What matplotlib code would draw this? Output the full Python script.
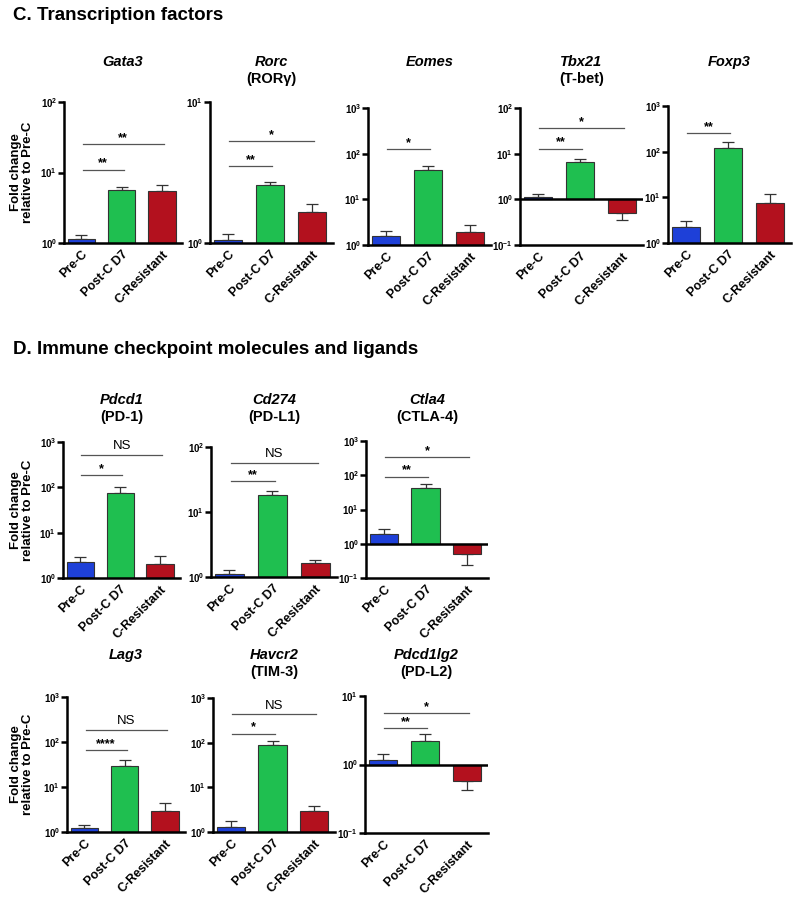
import numpy as np
import matplotlib
matplotlib.use("Agg")
import matplotlib.pyplot as plt
from matplotlib.ticker import FixedLocator, FuncFormatter, NullLocator

plt.rcParams['font.family'] = ['Liberation Sans', 'DejaVu Sans']
plt.rcParams['mathtext.fontset'] = 'custom'
plt.rcParams['mathtext.rm'] = 'Liberation Sans'
plt.rcParams['mathtext.bf'] = 'Liberation Sans:bold'
plt.rcParams['axes.unicode_minus'] = False

W, H = 800, 898

groups = ["Pre-C", "Post-C D7", "C-Resistant"]
genes = ["Gata3", "Rorc", "Eomes", "Tbx21", "Foxp3",
         "Pdcd1", "Cd274", "Ctla4", "Lag3", "Havcr2", "Pdcd1lg2"]
proteins = ["", "(ROR\u03b3)", "", "(T-bet)", "",
            "(PD-1)", "(PD-L1)", "(CTLA-4)", "", "(TIM-3)", "(PD-L2)"]

# mean fold change per group (Pre-C, Post-C D7, C-Resistant)
means = [
    [1.15, 5.6, 5.4],
    [1.05, 2.57, 1.66],
    [1.55, 43.5, 1.96],
    [1.1, 6.5, 0.51],
    [2.24, 121, 7.4],
    [2.2, 75, 2.07],
    [1.1, 18.2, 1.62],
    [1.87, 43.6, 0.51],
    [1.25, 28.8, 2.88],
    [1.3, 88, 2.92],
    [1.18, 2.19, 0.57],
]
# end of error bar (away from 10^0)
err_ends = [
    [1.3, 6.3, 6.6],
    [1.15, 2.69, 1.9],
    [2.06, 55, 2.78],
    [1.29, 7.8, 0.36],
    [3.0, 164, 11.7],
    [2.9, 100, 3.05],
    [1.26, 20.7, 1.84],
    [2.63, 54.5, 0.24],
    [1.45, 39.7, 4.4],
    [1.8, 111, 3.85],
    [1.42, 2.75, 0.43],
]
ylims = [(1, 100), (1, 10), (1, 1000), (0.1, 100), (1, 1000),
         (1, 1000), (1, 100), (0.1, 1000), (1, 1000), (1, 1000), (0.1, 10)]
# significance brackets: (from group, to group, height, label)
sig = [
    [(0, 1, 11, "**"), (0, 2, 25.6, "**")],
    [(0, 1, 3.5, "**"), (0, 2, 5.3, "*")],
    [(0, 1, 125, "*")],
    [(0, 1, 12.9, "**"), (0, 2, 36, "*")],
    [(0, 1, 250, "**")],
    [(0, 1, 186, "*"), (0, 2, 510, "NS")],
    [(0, 1, 30, "**"), (0, 2, 57, "NS")],
    [(0, 1, 91, "**"), (0, 2, 330, "*")],
    [(0, 1, 66, "****"), (0, 2, 184, "NS")],
    [(0, 1, 160, "*"), (0, 2, 430, "NS")],
    [(0, 1, 3.44, "**"), (0, 2, 5.7, "*")],
]

colors = ["#1e40d8", "#1fbf50", "#b3111e"]

# axes boxes in pixels: left, top, right, bottom
boxes = [
    (64, 102, 182, 243), (210, 102, 333, 243), (368, 108, 491, 245),
    (520, 108, 643, 245), (668, 106, 791, 243),
    (63, 442, 180, 578), (211, 447, 337, 577), (366, 441, 488, 578),
    (67, 697, 185, 832), (213, 698, 335, 832), (365, 696, 488, 833),
]
title_y = [62] * 5 + [400] * 3 + [655] * 3

fig = plt.figure(figsize=(W / 100, H / 100), dpi=100)

fig.text(13 / W, 1 - 15 / H, "C. Transcription factors", fontsize=13.5,
         fontweight="bold", va="center", ha="left")
fig.text(13 / W, 1 - 350 / H, "D. Immune checkpoint molecules and ligands",
         fontsize=13.5, fontweight="bold", va="center", ha="left")


def fmt(v, p):
    return r"$\mathbf{10^{%d}}$" % int(round(np.log10(v)))


x = np.arange(3)
for k, gene in enumerate(genes):
    l, t, r, b = boxes[k]
    ax = fig.add_axes([l / W, 1 - b / H, (r - l) / W, (b - t) / H])
    ax.set_yscale("log")
    lo, hi = ylims[k]
    m = np.array(means[k])
    e = np.array(err_ends[k])
    ax.bar(x, m - 1, bottom=1, width=0.68, color=colors,
           edgecolor="#333333", linewidth=0.8, zorder=2)
    up = np.where(m >= 1, e - m, 0)
    dn = np.where(m < 1, m - e, 0)
    ax.errorbar(x, m, yerr=[dn, up], fmt="none", ecolor="#333333",
                elinewidth=0.9, capsize=4.5, capthick=0.9, zorder=1)
    if lo < 1:
        ax.axhline(1, color="black", lw=1.8, zorder=3)
    for i, j, yy, lab in sig[k]:
        ax.plot([i + 0.03, j + 0.05], [yy, yy], color="#555555", lw=0.9)
        if lab == "NS":
            ax.annotate(lab, ((i + j) / 2 + 0.04, yy), xytext=(0, 2),
                        textcoords="offset points", ha="center", va="bottom",
                        fontsize=9.5)
        else:
            ax.annotate(lab, ((i + j) / 2 + 0.04, yy), xytext=(0, 0),
                        textcoords="offset points", ha="center", va="bottom",
                        fontsize=9, fontweight="bold")
    ax.set_xlim(-0.43, 2.5)
    ax.set_ylim(lo, hi)
    decades = 10.0 ** np.arange(np.log10(lo), np.log10(hi) + 1)
    ax.yaxis.set_major_locator(FixedLocator(decades))
    ax.yaxis.set_minor_locator(NullLocator())
    ax.yaxis.set_major_formatter(FuncFormatter(fmt))
    ax.set_xticks(x)
    ax.set_xticklabels(groups, rotation=45, ha="right",
                       rotation_mode="anchor", fontsize=9, fontweight="bold")
    ax.tick_params(axis="x", length=0, pad=4)
    ax.tick_params(axis="y", length=4, width=1.8, labelsize=7, pad=1)
    for s in ["top", "right"]:
        ax.spines[s].set_visible(False)
    for s in ["left", "bottom"]:
        ax.spines[s].set_linewidth(1.8)

    cx = (l + r) / 2 / W
    fig.text(cx, 1 - title_y[k] / H, gene, fontsize=10.5, fontweight="bold",
             style="italic", ha="center", va="center")
    if proteins[k]:
        fig.text(cx, 1 - (title_y[k] + 17) / H, proteins[k], fontsize=10.5,
                 fontweight="bold", ha="center", va="center")
    if k in (0, 5, 8):
        fig.text(22 / W, 1 - (t + b) / 2 / H, "Fold change\nrelative to Pre-C",
                 rotation=90, fontsize=9.5, fontweight="bold",
                 ha="center", va="center", linespacing=1.0)

fig.savefig("out.png", dpi=100)
